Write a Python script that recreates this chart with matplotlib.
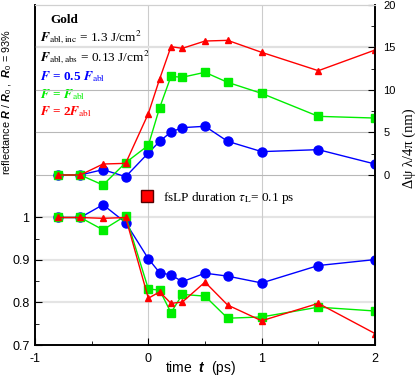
import numpy as np
import matplotlib
matplotlib.use("Agg")
import matplotlib.pyplot as plt
from matplotlib.lines import Line2D

plt.rcParams['font.family'] = ['Liberation Sans', 'DejaVu Sans']
plt.rcParams['mathtext.fontset'] = 'custom'
plt.rcParams['mathtext.rm'] = 'Liberation Sans'
plt.rcParams['mathtext.it'] = 'Liberation Sans:italic'
plt.rcParams['mathtext.bf'] = 'Liberation Sans:bold'
plt.rcParams['mathtext.bfit'] = 'Liberation Sans:italic:bold'

# delay times (ps)
t = [-0.8, -0.6, -0.4, -0.2, 0.0, 0.1, 0.2, 0.3, 0.5, 0.7, 1.0, 1.5, 2.0]

# reflectance R/R0 (left axis)
refl_half = [1.0, 1.0, 1.03, 0.988, 0.903, 0.870, 0.865, 0.849, 0.869, 0.862, 0.846, 0.887, 0.901]
refl_one = [1.0, 1.0, 0.971, 1.004, 0.832, 0.829, 0.776, 0.819, 0.815, 0.763, 0.766, 0.789, 0.780]
refl_two = [1.0, 1.0, 0.998, 1.0, 0.810, 0.825, 0.798, 0.801, 0.848, 0.794, 0.757, 0.798, 0.727]

# phase shift d_psi*lambda/4pi in nm (right axis)
phase_half = [0.0, 0.0, 0.63, -0.2, 2.59, 3.96, 5.06, 5.57, 5.73, 3.96, 2.75, 2.98, 1.29]
phase_one = [0.0, 0.0, -1.18, 1.45, 3.49, 7.92, 11.6, 11.5, 12.08, 10.9, 9.6, 6.9, 6.7]
phase_two = [0.0, 0.0, 1.29, 1.37, 7.22, 11.3, 15.1, 14.9, 15.76, 15.84, 14.43, 12.27, 14.7]

left_ticks = [0.7, 0.8, 0.9, 1.0]
left_minor = [0.75, 0.85, 0.95]
right_ticks = [0, 5, 10, 15, 20]
right_minor = [2.5, 7.5, 12.5, 17.5]
x_ticks = [-1, 0, 1, 2]
x_minor = [-0.5, 0.5, 1.5]

blue = '#0000ff'
green = '#00ee00'
red = '#ff0000'

fig = plt.figure(figsize=(4.15, 3.78), dpi=100)
ax = fig.add_axes([0.0843, 0.0873, 0.8193, 0.8995])
ax2 = ax.twinx()

# grid lines
for v in [0.8, 0.9, 1.0]:
    ax.axhline(v, color='#e4e4e4', lw=1.6, zorder=0)
for v in [0, 5, 10]:
    ax2.axhline(v, color='#b8b8b8', lw=0.8, zorder=0)
ax2.axhline(15, color='#e0e0e0', lw=1.6, zorder=0)
for v in [0, 1]:
    ax.axvline(v, color='#cccccc', lw=0.8, zorder=0)

ax.plot(t, refl_half, '-o', color=blue, ms=6.5, lw=1)
ax.plot(t, refl_one, '-s', color=green, ms=5.5, lw=1)
ax.plot(t, refl_two, '-^', color=red, ms=5, lw=1)

ax2.plot(t, phase_half, '-o', color=blue, ms=6.5, lw=1)
ax2.plot(t, phase_one, '-s', color=green, ms=5.5, lw=1)
ax2.plot(t, phase_two, '-^', color=red, ms=5, lw=1)

ax.set_xlim(-1, 2)
ax.set_ylim(0.7, 1.5)
ax2.set_ylim(-20, 20)

ax.set_xticks(x_ticks)
ax.set_xticklabels(['-1', '0', '1', '2'])
ax.set_xticks(x_minor, minor=True)
ax.set_yticks(left_ticks)
ax.set_yticklabels(['0.7', '0.8', '0.9', '1'])
ax.set_yticks(left_minor, minor=True)
ax2.set_yticks(right_ticks)
ax2.set_yticks(right_minor, minor=True)

ax.tick_params(axis='both', which='both', direction='in', labelsize=9, top=False)
ax.tick_params(axis='x', which='major', length=5, pad=6)
ax.tick_params(axis='x', which='minor', length=3)
ax.tick_params(axis='y', which='major', length=5, pad=4)
ax.tick_params(axis='y', which='minor', length=3)
ax2.tick_params(axis='y', which='both', direction='in', labelsize=8, pad=6)
ax2.tick_params(axis='y', which='major', length=5)
ax2.tick_params(axis='y', which='minor', length=3)

for a in (ax, ax2):
    a.spines['top'].set_color('#d0d0d0')
    a.spines['left'].set_linewidth(1.2)
    a.spines['right'].set_linewidth(1.2)
    a.spines['bottom'].set_linewidth(1.2)

ax.set_ylabel(r'reflectance $\mathbfit{R}$ / $\mathbfit{R}_0$ ,  $\mathbfit{R}_0$ = 93%', fontsize=7.8)
ax.yaxis.set_label_coords(-0.062, 0.715)
ax.set_xlabel(r'time  $\mathbfit{t}$  (ps)', fontsize=10)
ax.xaxis.set_label_coords(0.488, -0.042)
ax2.set_ylabel('\u0394\u03c8 \u03bb/4\u03c0 (nm)', fontsize=10.5, family='Liberation Serif')
ax2.yaxis.set_label_coords(1.08, 0.58)

serif = dict(family='Liberation Serif', fontsize=9.5, math_fontfamily='stix',
             transform=ax.transAxes, va='center', ha='left')
ax.text(0.044, 0.956, 'Gold', fontweight='bold', **serif)
ax.text(0.015, 0.906, r'$\mathbfit{F}_{\mathrm{abl,inc}}$ = 1.3 J/cm$^2$', **serif)
ax.text(0.015, 0.846, r'$\mathbfit{F}_{\mathrm{abl,abs}}$ = 0.13 J/cm$^2$', **serif)
ax.text(0.015, 0.788, r'$\mathbfit{F}$ = 0.5 $\mathbfit{F}_{\mathrm{abl}}$', color=blue,
        fontweight='bold', **serif)
ax.text(0.015, 0.735, r'$\mathbfit{F}$ = $\mathbfit{F}_{\mathrm{abl}}$', color=green,
        fontweight='bold', **serif)
ax.text(0.015, 0.685, r'$\mathbfit{F}$ = 2$\mathbfit{F}_{\mathrm{abl}}$', color=red,
        fontweight='bold', **serif)

handle = Line2D([], [], marker='s', color=red, mec='#550000', ms=8, linestyle='none')
leg = ax.legend([handle], [r'fsLP duration $\tau_{\mathrm{L}}$= 0.1 ps'], frameon=False,
                loc='center left', bbox_to_anchor=(0.275, 0.432), handletextpad=0.2,
                borderaxespad=0, prop={'family': 'Liberation Serif', 'size': 9.5,
                                       'math_fontfamily': 'stix'})

fig.savefig('out.png', dpi=100)
